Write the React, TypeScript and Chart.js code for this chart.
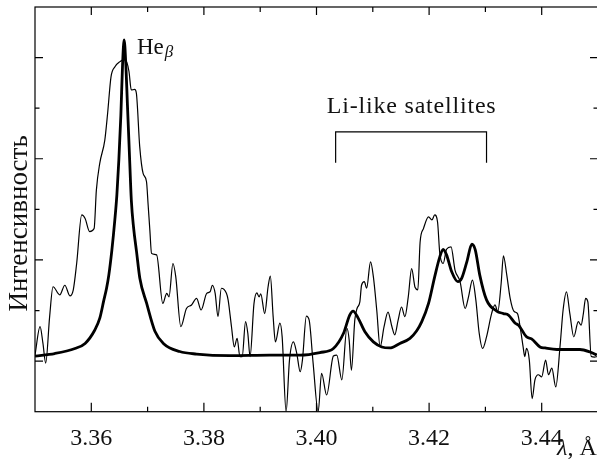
import React, { useEffect, useRef } from 'react';
import { Chart, registerables } from 'chart.js';

Chart.register(...registerables);

// Measured spectrum (thin line): wavelength (Å) and intensity (arb. units)
const measuredLambda = [
  3.3500, 3.3509, 3.3514, 3.3519, 3.3526, 3.3532, 3.3544, 3.3553, 3.3562, 3.3568,
  3.3574, 3.3583, 3.3589, 3.3597, 3.3605, 3.3609, 3.3615, 3.3624, 3.3629, 3.3635,
  3.3642, 3.3651, 3.3658, 3.3663, 3.3667, 3.3671, 3.3677, 3.3680, 3.3686, 3.3692,
  3.3698, 3.3701, 3.3704, 3.3707, 3.3716, 3.3727, 3.3734, 3.3738, 3.3745, 3.3750,
  3.3759, 3.3769, 3.3778, 3.3787, 3.3795, 3.3805, 3.3811, 3.3815, 3.3820, 3.3825,
  3.3831, 3.3840, 3.3843, 3.3849, 3.3854, 3.3859, 3.3864, 3.3868, 3.3874, 3.3878,
  3.3882, 3.3889, 3.3894, 3.3898, 3.3901, 3.3908, 3.3914, 3.3918, 3.3923, 3.3927,
  3.3935, 3.3939, 3.3946, 3.3952, 3.3959, 3.3965, 3.3971, 3.3975, 3.3982, 3.3987,
  3.3994, 3.4003, 3.4009, 3.4018, 3.4030, 3.4036, 3.4045, 3.4054, 3.4058, 3.4062,
  3.4068, 3.4072, 3.4077, 3.4080, 3.4085, 3.4089, 3.4096, 3.4101, 3.4107, 3.4113,
  3.4120, 3.4127, 3.4134, 3.4139, 3.4145, 3.4151, 3.4157, 3.4163, 3.4169, 3.4175,
  3.4180, 3.4184, 3.4190, 3.4199, 3.4205, 3.4210, 3.4215, 3.4219, 3.4225, 3.4231,
  3.4239, 3.4246, 3.4255, 3.4264, 3.4270, 3.4277, 3.4283, 3.4289, 3.4295, 3.4302,
  3.4311, 3.4317, 3.4322, 3.4328, 3.4332, 3.4338, 3.4344, 3.4351, 3.4357, 3.4363,
  3.4367, 3.4370, 3.4373, 3.4378, 3.4383, 3.4388, 3.4394, 3.4400, 3.4407, 3.4412,
  3.4418, 3.4425, 3.4433, 3.4438, 3.4444, 3.4450, 3.4457, 3.4465, 3.4470, 3.4474,
  3.4478, 3.4482, 3.4488, 3.4494, 3.4498,
];
const measuredIntensity = [
  1.12, 1.68, 1.36, 0.96, 1.88, 2.47, 2.31, 2.50, 2.29, 2.41,
  2.93, 3.89, 3.82, 3.56, 3.62, 4.38, 4.91, 5.37, 5.90, 6.62,
  6.82, 6.92, 6.96, 6.91, 6.72, 6.36, 6.37, 6.30, 5.24, 4.71,
  4.55, 4.08, 3.59, 3.13, 3.10, 2.14, 2.34, 2.27, 2.93, 2.67,
  1.68, 2.04, 2.11, 2.24, 2.01, 2.34, 2.37, 2.50, 2.34, 1.88,
  2.44, 2.34, 2.21, 1.68, 1.28, 1.45, 1.09, 1.09, 1.78, 1.55,
  1.09, 2.14, 2.35, 2.27, 2.33, 1.94, 2.47, 2.68, 1.88, 1.38,
  1.75, 1.48, 0.00, 1.02, 1.38, 1.15, 0.79, 1.02, 1.89, 1.81,
  0.96, 0.00, 0.76, 0.33, 1.10, 1.12, 0.63, 1.65, 1.42, 0.82,
  1.81, 2.04, 2.17, 2.50, 2.57, 2.44, 2.96, 2.67, 2.01, 1.28,
  1.68, 1.97, 1.68, 1.52, 1.81, 2.07, 1.88, 2.27, 2.83, 2.46,
  2.41, 3.35, 3.62, 3.85, 3.79, 3.89, 3.75, 3.13, 2.93, 3.21,
  3.26, 2.80, 2.57, 2.04, 2.27, 2.60, 2.21, 1.55, 1.25, 1.48,
  1.94, 2.11, 1.98, 2.54, 3.08, 2.70, 2.24, 1.98, 1.94, 1.58,
  1.28, 1.09, 1.25, 1.02, 0.26, 0.63, 0.73, 0.69, 1.02, 0.73,
  0.86, 0.49, 1.35, 2.01, 2.37, 1.94, 1.48, 1.78, 1.71, 1.94,
  2.24, 2.17, 1.09, 1.08, 1.09,
];

// Model fit (thick line)
const fitLambda = [
  3.3500, 3.3535, 3.3571, 3.3589, 3.3606, 3.36151, 3.36222, 3.36271, 3.36311, 3.36365,
  3.36418, 3.36454, 3.36489, 3.36525, 3.36555, 3.36583, 3.36614, 3.36642, 3.36676, 3.36711,
  3.36752, 3.36804, 3.36862, 3.36981, 3.3713, 3.3728, 3.3757, 3.3787, 3.3846, 3.3917,
  3.3971, 3.4006, 3.4030, 3.4048, 3.4059, 3.4065, 3.4074, 3.4086, 3.4101, 3.4116,
  3.4130, 3.4148, 3.4166, 3.4178, 3.4187, 3.4199, 3.4210, 3.4219, 3.4225, 3.4231,
  3.4240, 3.4251, 3.4258, 3.4267, 3.4276, 3.4282, 3.4290, 3.4302, 3.4320, 3.4332,
  3.4341, 3.4353, 3.4359, 3.4373, 3.4382, 3.4397, 3.4406, 3.4427, 3.4468, 3.4486,
  3.4498,
];
const fitIntensity = [
  1.10, 1.15, 1.25, 1.35, 1.61, 1.85, 2.20, 2.44, 2.70, 3.19,
  3.79, 4.28, 4.97, 5.86, 6.85, 7.35, 6.85, 6.06, 5.13, 4.18,
  3.63, 3.16, 2.64, 2.15, 1.59, 1.35, 1.19, 1.14, 1.11, 1.12,
  1.12, 1.17, 1.25, 1.55, 1.91, 1.99, 1.85, 1.58, 1.38, 1.28,
  1.26, 1.35, 1.45, 1.60, 1.78, 2.14, 2.67, 3.06, 3.21, 3.10,
  2.77, 2.57, 2.64, 2.96, 3.31, 3.20, 2.70, 2.21, 1.99, 1.94,
  1.91, 1.75, 1.71, 1.48, 1.44, 1.28, 1.26, 1.23, 1.23, 1.18,
  1.12,
];

// Bracket marking the Li-like satellites
const bracketLambda = [3.4034, 3.4034, 3.4302, 3.4302];
const bracketIntensity = [4.92, 5.53, 5.53, 4.92];

// Axes
const xMin = 3.35;
const xMax = 3.45;
const yMin = 0;
const yMax = 8;
const xMajorTicks = [3.36, 3.38, 3.40, 3.42, 3.44];
const xTickLabels = ['3.36', '3.38', '3.40', '3.42', '3.44'];
const xMinorTicks = [3.37, 3.39, 3.41, 3.43];
const yMajorTicks = [1, 3, 5, 7];
const yMinorTicks = [2, 4, 6];

// Texts
const yAxisTitle = 'Интенсивность';
const xAxisSymbol = 'λ';
const xAxisUnit = ', Å';
const peakLabel = 'He';
const peakLabelSub = 'β';
const peakLabelAt = { x: 3.3681, y: 7.08 };
const satellitesLabel = 'Li-like satellites';
const satellitesLabelAt = { x: 3.4169, y: 5.91 };

const FONT = '"Liberation Serif", "Times New Roman", serif';

const decorPlugin = {
  id: 'decor',
  afterDraw(chart: any) {
    const { ctx, chartArea: a, scales } = chart;
    const xs = scales.x;
    const ys = scales.y;
    ctx.save();
    ctx.strokeStyle = '#000';
    ctx.lineWidth = 1.2;
    ctx.strokeRect(a.left, a.top, a.right - a.left, a.bottom - a.top);
    ctx.beginPath();
    const xTicks = (vals: number[], lenB: number, lenT: number) => {
      vals.forEach((v) => {
        const px = xs.getPixelForValue(v);
        ctx.moveTo(px, a.bottom);
        ctx.lineTo(px, a.bottom - lenB);
        ctx.moveTo(px, a.top);
        ctx.lineTo(px, a.top + lenT);
      });
    };
    const yTicks = (vals: number[], len: number) => {
      vals.forEach((v) => {
        const py = ys.getPixelForValue(v);
        ctx.moveTo(a.left, py);
        ctx.lineTo(a.left + len, py);
        ctx.moveTo(a.right, py);
        ctx.lineTo(a.right - len, py);
      });
    };
    xTicks(xMajorTicks, 9, 8);
    xTicks(xMinorTicks, 5, 5);
    yTicks(yMajorTicks, 8);
    yTicks(yMinorTicks, 4.5);
    ctx.stroke();

    ctx.fillStyle = '#111';
    ctx.textBaseline = 'alphabetic';

    // He_beta label
    ctx.textAlign = 'left';
    ctx.font = `23px ${FONT}`;
    const hx = xs.getPixelForValue(peakLabelAt.x);
    const hy = ys.getPixelForValue(peakLabelAt.y);
    ctx.fillText(peakLabel, hx, hy);
    const hw = ctx.measureText(peakLabel).width;
    ctx.font = `italic 17px ${FONT}`;
    ctx.fillText(peakLabelSub, hx + hw + 1, hy + 3);

    // Li-like satellites label
    ctx.font = `24px ${FONT}`;
    ctx.textAlign = 'center';
    try { (ctx as any).letterSpacing = '0.8px'; } catch (e) {}
    ctx.fillText(
      satellitesLabel,
      xs.getPixelForValue(satellitesLabelAt.x),
      ys.getPixelForValue(satellitesLabelAt.y)
    );
    try { (ctx as any).letterSpacing = '0px'; } catch (e) {}

    // y axis title
    ctx.save();
    ctx.translate(a.left - 8.5, (a.top + a.bottom) / 2 + 14);
    ctx.rotate(-Math.PI / 2);
    ctx.font = `27px ${FONT}`;
    ctx.textAlign = 'center';
    ctx.fillText(yAxisTitle, 0, 0);
    ctx.restore();

    // x axis title
    ctx.textAlign = 'left';
    ctx.font = `italic 24px ${FONT}`;
    const tx = a.right - 41;
    const ty = a.bottom + 43;
    ctx.fillText(xAxisSymbol, tx, ty);
    const lw = ctx.measureText(xAxisSymbol).width;
    ctx.font = `24px ${FONT}`;
    ctx.fillText(xAxisUnit, tx + lw, ty);

    ctx.restore();
  },
};

export default function App() {
  const canvasRef = useRef<HTMLCanvasElement | null>(null);

  useEffect(() => {
    const canvas = canvasRef.current;
    if (!canvas) return;
    const measured = measuredLambda.map((x, i) => ({ x, y: measuredIntensity[i] }));
    const fit = fitLambda.map((x, i) => ({ x, y: fitIntensity[i] }));
    const bracket = bracketLambda.map((x, i) => ({ x, y: bracketIntensity[i] }));

    const chart = new Chart(canvas, {
      type: 'line',
      data: {
        datasets: [
          {
            label: 'measured',
            data: measured,
            borderColor: '#000',
            borderWidth: 1.2,
            pointRadius: 0,
            fill: false,
            cubicInterpolationMode: 'monotone',
          },
          {
            label: 'fit',
            data: fit,
            borderColor: '#000',
            borderWidth: 2.8,
            pointRadius: 0,
            fill: false,
            cubicInterpolationMode: 'monotone',
          },
          {
            label: 'bracket',
            data: bracket,
            borderColor: '#000',
            borderWidth: 1.2,
            pointRadius: 0,
            fill: false,
            tension: 0,
          },
        ],
      },
      options: {
        responsive: false,
        animation: false,
        events: [],
        layout: { padding: { left: 35, top: 7, right: 4, bottom: 0 } },
        plugins: {
          legend: { display: false },
          tooltip: { enabled: false },
          title: { display: false },
        },
        scales: {
          x: {
            type: 'linear',
            min: xMin,
            max: xMax,
            grid: { display: false },
            border: { display: false },
            afterBuildTicks: (scale: any) => {
              scale.ticks = xMajorTicks.map((v) => ({ value: v }));
            },
            afterFit: (scale: any) => {
              scale.height = 49.3;
            },
            ticks: {
              autoSkip: false,
              maxRotation: 0,
              padding: 5,
              color: '#111',
              font: { family: FONT, size: 24 },
              callback: (value: any) => {
                const idx = xMajorTicks.findIndex((t) => Math.abs(t - Number(value)) < 1e-6);
                return idx >= 0 ? xTickLabels[idx] : '';
              },
            },
          },
          y: {
            type: 'linear',
            display: false,
            min: yMin,
            max: yMax,
          },
        },
      },
      plugins: [decorPlugin],
    } as any);

    return () => chart.destroy();
  }, []);

  return (
    <div
      style={{
        position: 'fixed',
        left: 0,
        top: 0,
        width: 597,
        height: 461,
        overflow: 'hidden',
        background: '#fff',
      }}
    >
      <canvas ref={canvasRef} width={602} height={461} style={{ display: 'block' }} />
    </div>
  );
}
